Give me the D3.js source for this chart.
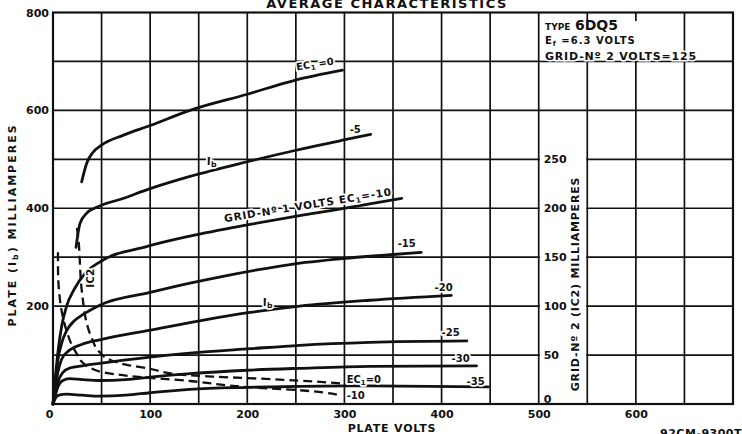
<!DOCTYPE html>
<html>
<head>
<meta charset="utf-8">
<script src="https://cdn.jsdelivr.net/npm/d3@7"></script>
<style>
  body { margin: 0; background: #fff; }
  text { font-family: "DejaVu Sans", sans-serif; font-weight: bold; fill: #111; }
</style>
</head>
<body>
<svg></svg>
<script>
// plate current Ib (mA) vs plate volts, one list per grid-No.1 voltage
let ibEc0 = [[29.5, 454], [34.7, 492], [41, 514], [50, 529], [72, 549], [100, 569], [141, 600], [200, 633], [248, 661], [298, 682]];
let ibEcm5 = [[23.7, 320], [27.8, 369], [34.7, 390], [45, 402], [72, 420], [100, 440], [141, 465], [200, 495], [249, 518], [298, 539], [327, 551]];
let ibEcm10 = [[0, 0], [2, 45], [5, 105], [9, 160], [14, 200], [22, 235], [33, 267], [48, 290], [97, 322], [141, 343], [200, 366], [251, 384], [298, 399], [326, 409], [359, 420]];
let ibEcm15 = [[0, 0], [2, 38], [5, 90], [9, 125], [14, 150], [22, 170], [31, 183], [48, 202], [100, 228], [141, 247], [175, 261], [210, 274], [244, 285], [298, 297], [347, 305], [379, 310]];
let ibEcm20 = [[0, 0], [2, 30], [5, 65], [9, 92], [17, 110], [30, 122], [48, 131], [100, 151], [151, 170], [203, 187], [254, 200], [326, 212], [410, 222]];
let ibEcm25 = [[0, 0], [2, 22], [5, 45], [10, 64], [18, 74], [30, 78], [48, 83], [75, 90], [100, 96], [141, 104], [203, 113], [254, 120], [326, 126], [426, 129]];
let ibEcm30 = [[0, 0], [2, 15], [5, 35], [10, 48], [17, 52], [30, 50], [48, 48], [75, 50], [100, 55], [141, 62], [200, 69], [254, 73], [326, 77], [436, 78]];
let ibEcm35 = [[0, 0], [2, 10], [6, 18], [14, 20], [30, 18], [48, 16], [75, 18], [100, 23], [141, 30], [200, 34], [254, 36], [326, 37], [448, 35]];

// grid-No.2 current Ic2 (mA, right scale)
let ic2Ec0 = [[24.7, 180], [26.7, 162], [27.8, 142], [28.8, 124], [30.8, 106], [33.9, 86], [40, 67], [48, 53], [59, 45], [76, 40], [100, 36], [131, 30], [165, 28], [233, 25], [298, 21]];
let ic2Ecm10 = [[5.1, 155], [5.2, 134], [6.2, 116], [8.2, 99], [11.3, 84], [14.4, 73.5], [19.5, 60], [24.7, 51], [29.8, 43], [38, 37], [50.4, 32.7], [79, 28.6], [141, 23.5], [199.5, 17.3], [251, 14.3], [295, 9.2]];

let plateVoltTicks = [0, 100, 200, 300, 400, 500, 600];
let plateMaTicks = [200, 400, 600, 800];
let screenMaTicks = [0, 50, 100, 150, 200, 250];

let width = 742;
let height = 434;

let xScale = d3.scaleLinear().domain([0, 700]).range([53, 733]);
let yScale = d3.scaleLinear().domain([0, 800]).range([404, 12.5]);
let y2Scale = d3.scaleLinear().domain([0, 400]).range([404, 12.5]);

let svg = d3.select('svg')
  .attr('width', width)
  .attr('height', height);

// grid
let grid = svg.append('g').attr('stroke', '#111').attr('stroke-width', 1.7);

grid.selectAll('.h')
  .data(d3.range(100, 800, 100))
  .enter()
  .append('line')
  .attr('x1', xScale(0)).attr('x2', xScale(700))
  .attr('y1', d => yScale(d)).attr('y2', d => yScale(d));

// the strip that carries the grid-No.2 scale
svg.append('rect')
  .attr('x', xScale(500) + 1).attr('y', yScale(550))
  .attr('width', xScale(550) - xScale(500) - 2)
  .attr('height', yScale(50) - yScale(550))
  .attr('fill', '#fff');

let vgrid = svg.append('g').attr('stroke', '#111').attr('stroke-width', 1.7);
vgrid.selectAll('.v')
  .data(d3.range(50, 700, 50))
  .enter()
  .append('line')
  .attr('x1', d => xScale(d)).attr('x2', d => xScale(d))
  .attr('y1', yScale(800)).attr('y2', yScale(0));

// box for the type data
svg.append('rect')
  .attr('x', xScale(500) + 1.5).attr('y', 21)
  .attr('width', xScale(650) - xScale(500) - 3)
  .attr('height', yScale(700) - 22)
  .attr('fill', '#fff');

svg.append('rect')
  .attr('x', xScale(0)).attr('y', yScale(800))
  .attr('width', xScale(700) - xScale(0))
  .attr('height', yScale(0) - yScale(800))
  .attr('fill', 'none')
  .attr('stroke', '#111')
  .attr('stroke-width', 2.2);

// curves
let plateLine = d3.line()
  .x(d => xScale(d[0]))
  .y(d => yScale(d[1]))
  .curve(d3.curveMonotoneX);

let screenLine = d3.line()
  .x(d => xScale(d[0]))
  .y(d => y2Scale(d[1]))
  .curve(d3.curveMonotoneY);

svg.append('g')
  .selectAll('path')
  .data([ibEc0, ibEcm5, ibEcm10, ibEcm15, ibEcm20, ibEcm25, ibEcm30, ibEcm35])
  .enter()
  .append('path')
  .attr('d', plateLine)
  .attr('fill', 'none')
  .attr('stroke', '#111')
  .attr('stroke-width', 2.8)
  .attr('stroke-linecap', 'round');

svg.append('g')
  .selectAll('path')
  .data([ic2Ec0, ic2Ecm10])
  .enter()
  .append('path')
  .attr('d', screenLine)
  .attr('fill', 'none')
  .attr('stroke', '#111')
  .attr('stroke-width', 2.3)
  .attr('stroke-dasharray', '9,5');

// axes
let yAxis = d3.axisLeft(yScale).tickValues(plateMaTicks).tickSize(0).tickPadding(4);
let xAxis = d3.axisBottom(xScale).tickValues(plateVoltTicks).tickSize(0).tickPadding(6);
let y2Axis = d3.axisRight(y2Scale).tickValues(screenMaTicks).tickSize(0).tickPadding(0);

function styleAxis(g) {
  g.select('.domain').remove();
  g.attr('font-family', null).attr('font-size', null);
  g.selectAll('text').style('font-size', '11px');
}

svg.append('g')
  .attr('transform', 'translate(' + xScale(0) + ',0)')
  .call(yAxis)
  .call(styleAxis);

svg.append('g')
  .attr('transform', 'translate(0,' + yScale(0) + ')')
  .call(xAxis)
  .call(styleAxis)
  .selectAll('text')
  .filter(d => d === 0)
  .attr('x', -4);

svg.append('g')
  .attr('transform', 'translate(' + (xScale(500) + 5) + ',0)')
  .call(y2Axis)
  .call(styleAxis)
  .selectAll('text')
  .filter(d => d === 0)
  .attr('y', -5);

// labels on the curves
function label(v, i, size, rot) {
  let t = svg.append('text')
    .attr('transform', 'translate(' + xScale(v) + ',' + yScale(i) + ') rotate(' + (rot || 0) + ')')
    .style('font-size', size + 'px')
    .attr('paint-order', 'stroke')
    .attr('stroke', '#fff')
    .attr('stroke-width', 3.5)
    .attr('stroke-linejoin', 'round');
  return t;
}

function sub(t, s) {
  t.append('tspan').attr('baseline-shift', '-25%').style('font-size', '0.7em').text(s);
}

let t = label(251, 681.6, 10, -9);
t.append('tspan').text('EC');
sub(t, '1');
t.append('tspan').text(' =0');

label(305.4, 553, 10).text('-5');

t = label(158.4, 488, 11);
t.append('tspan').text('I');
sub(t, 'b');

t = label(176.9, 371.4, 10.5, -9.2).style('letter-spacing', '0.8px');
t.append('tspan').text('GRID-Nº 1 VOLTS EC');
sub(t, '1');
t.append('tspan').text('=-10');

label(354.8, 320.4, 10).text('-15');

t = label(216, 200, 11);
t.append('tspan').text('I');
sub(t, 'b');

label(392.8, 230.6, 10).text('-20');
label(400, 138.8, 10).text('-25');
label(410.3, 85.7, 10).text('-30');
label(425.7, 38.8, 10).text('-35');

t = label(302.3, 42.9, 10);
t.append('tspan').text('EC');
sub(t, '1');
t.append('tspan').text('=0');

label(302.3, 10.2, 10).text('-10');

t = label(42.2, 257, 10.5, -90).attr('text-anchor', 'middle');
t.append('tspan').text('IC');
t.append('tspan').text('2');

// type box
svg.append('text').attr('x', 545).attr('y', 30).style('font-size', '9px').text('TYPE');
svg.append('text').attr('x', 575).attr('y', 30).style('font-size', '14px').text('6DQ5');
t = svg.append('text').attr('x', 545).attr('y', 44).style('font-size', '10px').style('letter-spacing', '1px');
t.append('tspan').text('E');
sub(t, 'f');
t.append('tspan').text(' =6.3 VOLTS');
svg.append('text').attr('x', 545).attr('y', 59.5)
  .style('font-size', '11px').style('letter-spacing', '0.8px')
  .attr('paint-order', 'stroke').attr('stroke', '#fff').attr('stroke-width', 3)
  .text('GRID-Nº 2  VOLTS=125');

// titles
svg.append('text')
  .attr('x', 387).attr('y', 8)
  .attr('text-anchor', 'middle')
  .style('font-size', '13px')
  .style('letter-spacing', '1.5px')
  .text('AVERAGE  CHARACTERISTICS');

svg.append('text')
  .attr('x', 392).attr('y', 432)
  .attr('text-anchor', 'middle')
  .style('font-size', '11px')
  .style('letter-spacing', '0.8px')
  .text('PLATE  VOLTS');

t = svg.append('text')
  .attr('transform', 'translate(16,225) rotate(-90)')
  .attr('text-anchor', 'middle')
  .style('font-size', '11px')
  .style('letter-spacing', '2px');
t.append('tspan').text('PLATE (I');
sub(t, 'b');
t.append('tspan').text(') MILLIAMPERES');

t = svg.append('text')
  .attr('transform', 'translate(579,284) rotate(-90)')
  .attr('text-anchor', 'middle')
  .style('font-size', '11px')
  .style('letter-spacing', '0.8px');
t.append('tspan').text('GRID-Nº 2 (IC');
t.append('tspan').text('2');
t.append('tspan').text(') MILLIAMPERES');

svg.append('text')
  .attr('x', 660).attr('y', 437)
  .style('font-size', '11px')
  .style('letter-spacing', '0.5px')
  .text('92CM-9300T');
</script>
</body>
</html>
